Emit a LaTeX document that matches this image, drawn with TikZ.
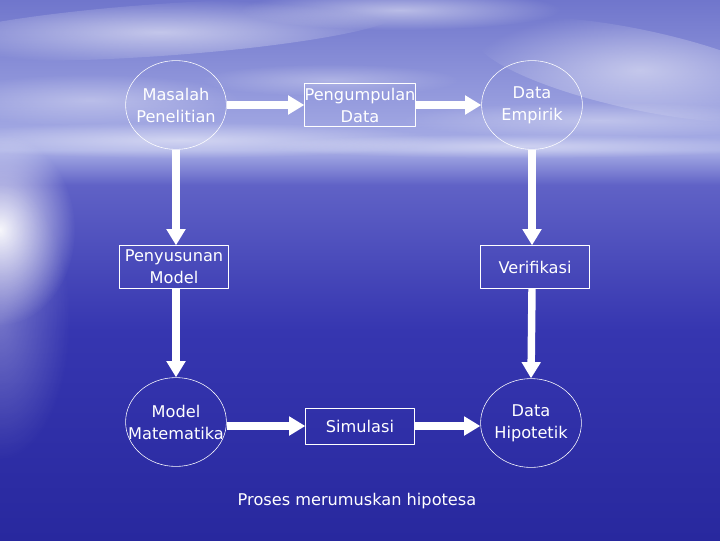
\documentclass[tikz,border=0pt]{standalone}
\usepackage{fontspec}
\setmainfont{DejaVu Sans}
\usetikzlibrary{arrows.meta,shapes.geometric,fadings}
\definecolor{langit}{RGB}{112,118,204}
\definecolor{ufuk}{RGB}{168,174,230}
\definecolor{lautA}{RGB}{96,98,198}
\definecolor{lautB}{RGB}{54,54,176}
\definecolor{lautC}{RGB}{40,40,158}
\tikzfading[name=pudar, inner color=transparent!0, outer color=transparent!100]

\begin{document}
\begin{tikzpicture}[x=0.025cm, y=-0.025cm, font=\fontsize{11.5}{15.6}\selectfont, line join=round,
	bulat/.style={ellipse, draw=white, thin, minimum width=2.52cm, minimum height=2.22cm, inner xsep=-16pt, inner ysep=0pt, align=center, text=white},
	kotak/.style={rectangle, draw=white, thin, minimum width=2.72cm, minimum height=1.07cm, inner sep=0pt, align=center, text=white},
	panah/.style={white, line width=5.3pt, -{Triangle[width=13pt,length=11.5pt]}},
	awan/.style={white, path fading=pudar}]
		% latar: langit dan laut
		\useasboundingbox (0,0) rectangle (720,540);
		\shade[top color=langit, bottom color=ufuk] (0,0) rectangle (720,150);
		\shade[top color=ufuk, bottom color=lautA] (0,150) rectangle (720,185);
		\shade[top color=lautA, bottom color=lautB] (0,185) rectangle (720,330);
		\shade[top color=lautB, bottom color=lautC] (0,330) rectangle (720,540);
		\foreach \x/\y/\rx/\ry/\r/\o in {160/30/240/26/4/0.55,400/10/160/20/0/0.5,640/70/170/40/-12/0.5,90/100/150/26/0/0.35,330/80/130/16/0/0.3,600/120/200/18/0/0.35,180/140/260/18/0/0.5,520/146/260/12/0/0.45}
		\fill[awan, opacity=\o, rotate around={\r:(\x,\y)}] (\x,\y) ellipse ({\rx} and {\ry});
		\fill[awan, opacity=0.95] (0,230) ellipse (75 and 95);
		\fill[awan, opacity=0.3] (0,320) ellipse (70 and 140);
		% simpul
		\node[bulat] (masalah) at (176,105) {Masalah\\Penelitian};
		\node[kotak] (kumpul) at (360,105) {Pengumpulan\\Data};
		\node[bulat] (empirik) at (532,105) {Data\\Empirik};
		\node[kotak] (susun) at (174,267) {Penyusunan\\Model};
		\node[kotak] (verif) at (535,267) {Verifikasi};
		\node[bulat] (matem) at (176,422) {Model\\Matematika};
		\node[kotak, minimum height=0.9cm] (simul) at (360,426) {Simulasi};
		\node[bulat] (hipo) at (531,423) {Data\\Hipotetik};
		\node[text=white] (judul) at (357,501) {Proses merumuskan hipotesa};
		% panah
		\draw[panah] (masalah.east) -- (kumpul.west);
		\draw[panah] (kumpul.east) -- (empirik.west);
		\draw[panah] (masalah.south) -- (masalah.south |- susun.north);
		\draw[panah] (masalah.south |- susun.south) -- (matem.north);
		\draw[panah] (empirik.south) -- (empirik.south |- verif.north);
		\draw[panah] (empirik.south |- verif.south) -- (hipo.north);
		\draw[panah] (matem.east |- simul.west) -- (simul.west);
		\draw[panah] (simul.east) -- (simul.east -| hipo.west);
\end{tikzpicture}
\end{document}
